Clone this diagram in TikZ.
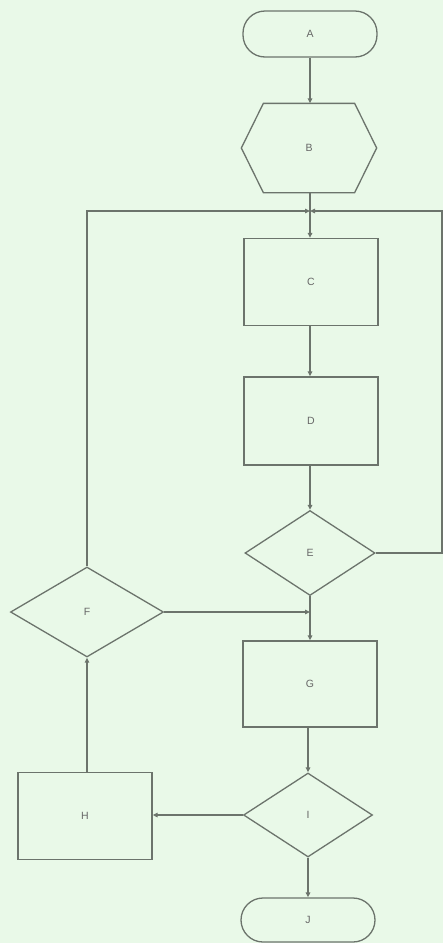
\documentclass[tikz,border=0pt]{standalone}
\usepackage{fontspec}
\setmainfont{Liberation Sans}
\usetikzlibrary{shapes.geometric,arrows.meta,calc}
\definecolor{bgc}{HTML}{E9F9E8}
\definecolor{lnc}{HTML}{6C746C}
\definecolor{txc}{HTML}{666666}
\begin{document}
\begin{tikzpicture}[x=1pt,y=-1pt,
  base/.style={draw=lnc,line width=1.3pt,text=txc,font=\fontsize{10.5}{12}\selectfont,inner sep=0pt},
  term/.style={base,rounded corners=22pt,minimum width=134pt,minimum height=46pt},
  proc/.style={base,rectangle,minimum width=134pt,minimum height=87pt},
  dec/.style={base,diamond,minimum width=130pt,minimum height=85pt},
  conn/.style={draw=lnc,line width=1.3pt,-{Triangle[length=5pt,width=4.5pt]}},
  plain/.style={draw=lnc,line width=1.3pt}]
\fill[bgc] (0,0) rectangle (443,943);
\useasboundingbox (0,0) rectangle (443,943);
\node[term] (A) at (310,34) {A};
\node[base,draw=none,minimum width=134pt,minimum height=88pt] (B) at (309,148) {B};
\draw[plain,line join=miter] (B.west) -- ($(B.north west)+(22,0)$) -- ($(B.north east)+(-22,0)$) -- (B.east)
  -- ($(B.south east)+(-22,0)$) -- ($(B.south west)+(22,0)$) -- cycle;
\coordinate (jn) at (310,211);
\node[proc] (C) at (311,282) {C};
\node[proc,minimum height=88pt] (D) at (311,421) {D};
\node[dec] (E) at (310,553) {E};
\coordinate (m) at (310,612);
\node[dec,minimum width=153pt,minimum height=90pt] (F) at (87,612) {F};
\node[proc,minimum height=86pt] (G) at (310,684) {G};
\node[proc] (H) at (85,816) {H};
\node[dec,minimum width=129pt,minimum height=84pt] (I) at (308,815) {I};
\node[term,minimum height=44pt] (J) at (308,920) {J};
\coordinate (er) at (442,553);
\draw[conn] (A) -- (B.north -| A);
\draw[plain] (B.south -| jn) -- (jn);
\draw[conn] (jn) -- (C.north -| jn);
\draw[conn] (F.north) -- (F.north |- jn) -- (jn);
\draw[conn] (E.east) -- (er) -- (er |- jn) -- (jn);
\draw[conn] (C.south -| jn) -- (D.north -| jn);
\draw[conn] (D.south -| jn) -- (E.north);
\draw[plain] (E.south) -- (m);
\draw[conn] (F.east) -- (m);
\draw[conn] (m) -- (G.north -| m);
\draw[conn] (G.south -| I) -- (I.north);
\draw[conn] (I.west) -- (H.east |- I.west);
\draw[conn] (H.north -| F) -- (F.south);
\draw[conn] (I.south) -- (J.north);
\end{tikzpicture}
\end{document}
